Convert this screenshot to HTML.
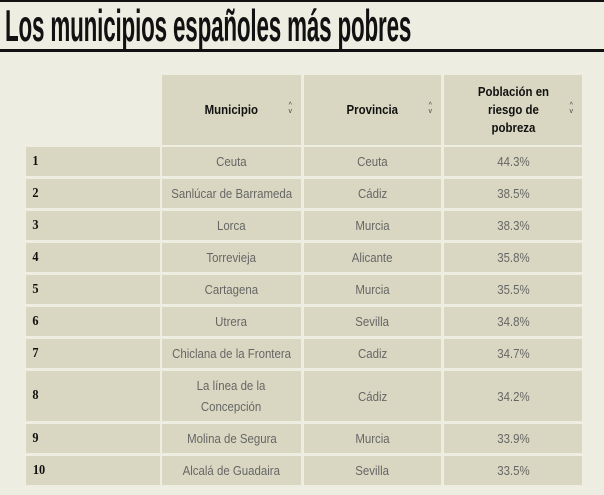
<!DOCTYPE html>
<html><head><meta charset="utf-8"><style>
body{margin:0;width:604px;height:495px;background:#eeede2;position:relative;overflow:hidden;font-family:"Liberation Sans",sans-serif}
.t{position:absolute;left:5px;top:2px;font-size:40px;font-weight:bold;white-space:nowrap;transform:scale(0.56,1.12);transform-origin:left top;color:#111;letter-spacing:-0.3px}
.c{position:absolute;background:#d9d7c1;display:flex;align-items:center;justify-content:center;text-align:center;color:#666;font-size:13px}
.c span{display:inline-block;transform:scaleX(0.88)}
.h{color:#111;font-weight:bold;font-size:13px;line-height:18px}
.n{justify-content:flex-start;padding-left:6px;box-sizing:border-box;color:#111;font-weight:bold;font-family:"Liberation Serif",serif;font-size:14px}
.ar{position:absolute;right:9px;top:50%;margin-top:-7px;font-size:7px;line-height:6px;color:#444;font-weight:normal}
</style></head><body>
<div style="position:absolute;left:0;top:0;width:604px;height:2px;background:#111"></div>
<div class="t">Los municipios españoles más pobres</div>
<div style="position:absolute;left:0;top:49px;width:604px;height:3px;background:#111"></div>

<div class="c h" style="left:162px;top:75px;width:139px;height:70px"><span>Municipio</span><div class="ar">^<br>v</div></div>
<div class="c h" style="left:304px;top:75px;width:137px;height:70px"><span>Provincia</span><div class="ar">^<br>v</div></div>
<div class="c h" style="left:444px;top:75px;width:138px;height:70px"><span>Población en<br>riesgo de<br>pobreza</span><div class="ar">^<br>v</div></div>

<div id="rows"></div>
<script>
var d=[["1","Ceuta","Ceuta","44.3%"],["2","Sanlúcar de Barrameda","Cádiz","38.5%"],["3","Lorca","Murcia","38.3%"],["4","Torrevieja","Alicante","35.8%"],["5","Cartagena","Murcia","35.5%"],["6","Utrera","Sevilla","34.8%"],["7","Chiclana de la Frontera","Cadiz","34.7%"],["8","La línea de la<br>Concepción","Cádiz","34.2%"],["9","Molina de Segura","Murcia","33.9%"],["10","Alcalá de Guadaira","Sevilla","33.5%"]];
var y=147,h="";
var xs=[[26,134],[162,139],[304,137],[444,138]];
d.forEach(function(r,i){var hh=(i==7)?50:29;
r.forEach(function(v,j){h+='<div class="c'+(j==0?' n':'')+'" style="left:'+xs[j][0]+'px;top:'+y+'px;width:'+xs[j][1]+'px;height:'+hh+'px;'+(i==7&&j==1?'line-height:21px':'')+'"><span>'+v+'</span></div>';});
y+=hh+3;});
document.getElementById("rows").innerHTML=h;
</script>
</body></html>
